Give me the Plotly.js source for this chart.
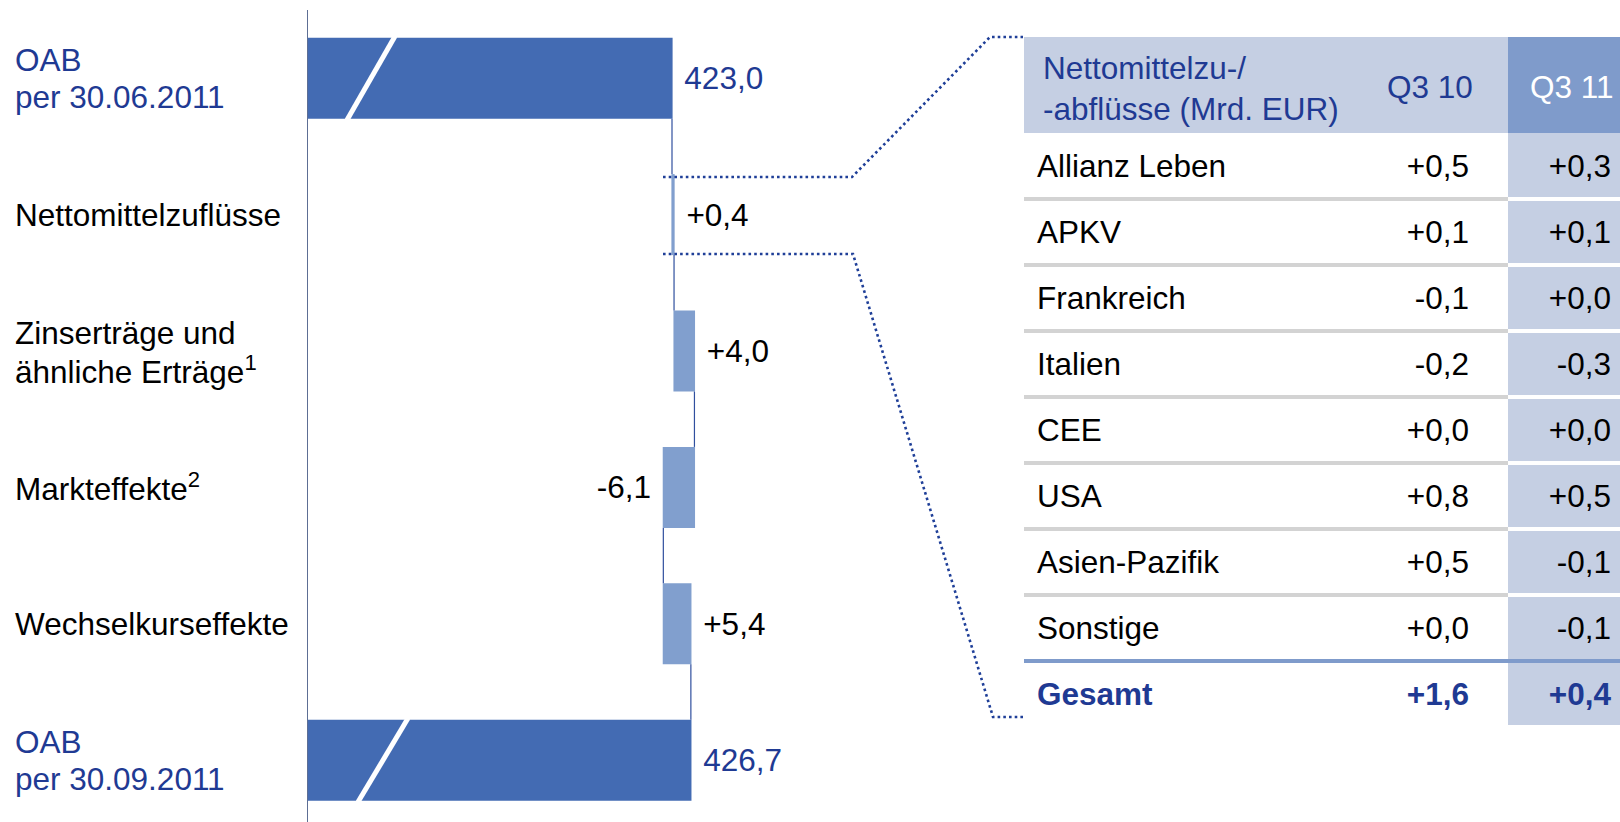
<!DOCTYPE html>
<html><head><meta charset="utf-8">
<script src="https://cdn.plot.ly/plotly-3.0.1.min.js"></script>
<style>html,body{margin:0;padding:0;background:#fff;}#chart{width:1620px;height:822px;}</style>
</head><body><div id="chart"></div>
<script>
// ---------- Waterfall data ----------
const categories = ['OAB per 30.06.2011', 'Nettomittelzuflüsse', 'Zinserträge und ähnliche Erträge', 'Markteffekte', 'Wechselkurseffekte', 'OAB per 30.09.2011'];
const categoryLabels = ['OAB<br>per 30.06.2011', 'Nettomittelzuflüsse', 'Zinserträge und<br>ähnliche Erträge<sup>1</sup>', 'Markteffekte<sup>2</sup>', 'Wechselkurseffekte', 'OAB<br>per 30.09.2011'];
const measures = ['absolute', 'relative', 'relative', 'relative', 'relative', 'total'];
const values = [423.0, 0.4, 4.0, -6.1, 5.4, 426.7];

// ---------- Table data ----------
const tableHeader = ['Nettomittelzu-/<br>-abflüsse (Mrd. EUR)', 'Q3 10', 'Q3 11'];
const regions = ['Allianz Leben', 'APKV', 'Frankreich', 'Italien', 'CEE', 'USA', 'Asien-Pazifik', 'Sonstige', 'Gesamt'];
const q3_10 = [0.5, 0.1, -0.1, -0.2, 0.0, 0.8, 0.5, 0.0, 1.6];
const q3_11 = [0.3, 0.1, 0.0, -0.3, 0.0, 0.5, -0.1, -0.1, 0.4];

// ---------- helpers ----------
const W = 1620, H = 822;
const FONT = 'Liberation Sans, Arial, sans-serif';
const FS = 31.5;
const BLUE_TXT = '#1f3a93';
const px = x => x / W;
const py = y => 1 - y / H;
const num = v => Math.abs(v).toFixed(1).replace('.', ',');
const signed = v => (v < 0 ? '-' : '+') + num(v);
const NB = '\u00a0';

// main chart geometry (layout only)
const PPU = 5.1;               // pixels per unit
const AX_LEFT = 308, AX_RIGHT = 1000;
const X0 = values[0] - (672 - AX_LEFT) / PPU;
const dx = p => X0 + (p - AX_LEFT) / PPU;
const ROW = 136.4;
const GAP = 1 - 81 / ROW;

const isTotal = measures.map(m => m !== 'relative');
const wfText = values.map((v, i) => isTotal[i] ? NB + num(v) : (v < 0 ? signed(v) + NB : NB + signed(v)));
const wfTextColor = values.map((v, i) => isTotal[i] ? BLUE_TXT : '#000000');

const traces = [];
traces.push({
  type: 'waterfall', orientation: 'h',
  y: categories, x: values, measure: measures,
  text: wfText, textinfo: 'text', textposition: 'outside', constraintext: 'none',
  textfont: {family: FONT, size: FS, color: wfTextColor},
  outsidetextfont: {family: FONT, size: FS, color: wfTextColor},
  totals: {marker: {color: '#436bb3', line: {width: 0}}},
  increasing: {marker: {color: '#819fce', line: {width: 0}}},
  decreasing: {marker: {color: '#819fce', line: {width: 0}}},
  connector: {mode: 'between', line: {color: '#2f4f9e', width: 1.2}},
  hoverinfo: 'skip', showlegend: false
});

// ---------- table via second axes ----------
const T_LEFT = 1024;
const RH = 66, ROW0 = 166;       // row height, centre of first row (px)
const COL3 = 484, TW = 596;      // col3 start, table width (x2 units)
const TXT_SHIFT = 3 / RH;
const last = regions.length - 1;
const rowIdx = regions.map((_, i) => i + TXT_SHIFT);
const rowColor = regions.map((_, i) => i === last ? BLUE_TXT : '#000000');
const bold = (s, i) => i === last ? '<b>' + s + '</b>' : s;

traces.push({
  type: 'scatter', mode: 'text', xaxis: 'x2', yaxis: 'y2',
  x: regions.map(() => 13), y: rowIdx,
  text: regions.map(bold), textposition: 'middle right',
  textfont: {family: FONT, size: FS, color: rowColor}, hoverinfo: 'skip', showlegend: false, cliponaxis: false
});
traces.push({
  type: 'scatter', mode: 'text', xaxis: 'x2', yaxis: 'y2',
  x: q3_10.map(() => 445), y: rowIdx,
  text: q3_10.map((v, i) => bold(signed(v), i)), textposition: 'middle left',
  textfont: {family: FONT, size: FS, color: rowColor}, hoverinfo: 'skip', showlegend: false, cliponaxis: false
});
traces.push({
  type: 'scatter', mode: 'text', xaxis: 'x2', yaxis: 'y2',
  x: q3_11.map(() => 587), y: rowIdx,
  text: q3_11.map((v, i) => bold(signed(v), i)), textposition: 'middle left',
  textfont: {family: FONT, size: FS, color: rowColor}, hoverinfo: 'skip', showlegend: false, cliponaxis: false
});

const hdrTop = -0.5 - 96 / RH;
const shapes = [];
// table backgrounds
shapes.push({type: 'rect', xref: 'x2', yref: 'y2', x0: 0, x1: COL3, y0: hdrTop, y1: -0.5, fillcolor: '#c5cfe3', line: {width: 0}, layer: 'below'});
shapes.push({type: 'rect', xref: 'x2', yref: 'y2', x0: COL3, x1: TW + 10, y0: hdrTop, y1: -0.5, fillcolor: '#7f9bcb', line: {width: 0}, layer: 'below'});
shapes.push({type: 'rect', xref: 'x2', yref: 'y2', x0: COL3, x1: TW + 10, y0: -0.5, y1: last + 0.47, fillcolor: '#c5cfe3', line: {width: 0}, layer: 'below'});
for (let i = 0; i < last - 1; i++) {
  shapes.push({type: 'line', xref: 'x2', yref: 'y2', x0: 0, x1: COL3, y0: i + 0.5, y1: i + 0.5, line: {color: '#d3d3d3', width: 4}});
  shapes.push({type: 'line', xref: 'x2', yref: 'y2', x0: COL3, x1: TW + 10, y0: i + 0.5, y1: i + 0.5, line: {color: '#ffffff', width: 4}});
}
shapes.push({type: 'line', xref: 'x2', yref: 'y2', x0: 0, x1: TW + 10, y0: last - 0.5, y1: last - 0.5, line: {color: '#7f9bcb', width: 4}});

// axis-break slashes on total bars
const hw = (1 - GAP) / 2 + 0.01;
shapes.push({type: 'line', xref: 'x', yref: 'y', x0: dx(395), y0: -hw, x1: dx(347), y1: hw, line: {color: '#ffffff', width: 5}});
shapes.push({type: 'line', xref: 'x', yref: 'y', x0: dx(408), y0: 5 - hw, x1: dx(358), y1: 5 + hw, line: {color: '#ffffff', width: 5}});

// dotted callout lines
const path = pts => 'M ' + pts.map(p => px(p[0]) + ',' + py(p[1])).join(' L ');
const dotLine = {color: '#1f3f98', width: 2.6, dash: '2.6px,3.1px'};
shapes.push({type: 'path', xref: 'paper', yref: 'paper', path: path([[663, 177], [852, 177], [990, 37], [1023, 37]]), line: dotLine});
shapes.push({type: 'path', xref: 'paper', yref: 'paper', path: path([[663, 254], [853, 254], [993, 717], [1023, 717]]), line: dotLine});

const annotations = [];
const LINE_GAP = 37;
categoryLabels.forEach((t, i) => {
  const lines = t.split('<br>');
  lines.forEach((ln, k) => {
    annotations.push({xref: 'paper', yref: 'y', x: px(13), y: categories[i], xanchor: 'left', yanchor: 'middle',
      yshift: -(k - (lines.length - 1) / 2) * LINE_GAP,
      text: ln, align: 'left', showarrow: false,
      font: {family: FONT, size: FS, color: (i === 0 || i === categories.length - 1) ? BLUE_TXT : '#000000'}});
  });
});
const hdrY = p => (p - ROW0) / RH;
annotations.push({xref: 'x2', yref: 'y2', x: 17, y: hdrY(88), xanchor: 'left', yanchor: 'middle', align: 'left',
  text: tableHeader[0], showarrow: false, font: {family: FONT, size: FS, color: BLUE_TXT}});
annotations.push({xref: 'x2', yref: 'y2', x: 451, y: hdrY(87), xanchor: 'right', yanchor: 'middle',
  text: tableHeader[1], showarrow: false, font: {family: FONT, size: FS, color: BLUE_TXT}});
annotations.push({xref: 'x2', yref: 'y2', x: 591, y: hdrY(87), xanchor: 'right', yanchor: 'middle',
  text: tableHeader[2], showarrow: false, font: {family: FONT, size: FS, color: '#ffffff'}});

const layout = {
  width: W, height: H,
  margin: {l: 0, r: 0, t: 0, b: 0, pad: 0},
  paper_bgcolor: '#ffffff', plot_bgcolor: 'rgba(0,0,0,0)',
  font: {family: FONT, size: FS, color: '#000'},
  showlegend: false, hovermode: false,
  waterfallgap: GAP,
  xaxis: {domain: [px(AX_LEFT), px(AX_RIGHT)], range: [X0, dx(AX_RIGHT)], showgrid: false, zeroline: false,
    showline: false, showticklabels: false, ticks: '', fixedrange: true},
  yaxis: {type: 'category', domain: [0, py(10)], range: [-0.5 + (H - 10) / ROW, -0.5],
    showgrid: false, zeroline: false, showline: true, linecolor: '#5d6e94', linewidth: 1.5,
    showticklabels: false, ticks: '', fixedrange: true},
  xaxis2: {domain: [px(T_LEFT), 1], range: [0, TW], anchor: 'y2', showgrid: false, zeroline: false,
    showline: false, showticklabels: false, ticks: '', fixedrange: true},
  yaxis2: {domain: [0, 1], range: [(H - ROW0) / RH, -ROW0 / RH], anchor: 'x2', showgrid: false, zeroline: false,
    showline: false, showticklabels: false, ticks: '', fixedrange: true},
  shapes: shapes,
  annotations: annotations
};

Plotly.newPlot('chart', traces, layout, {displayModeBar: false, staticPlot: true});
</script>
</body></html>
